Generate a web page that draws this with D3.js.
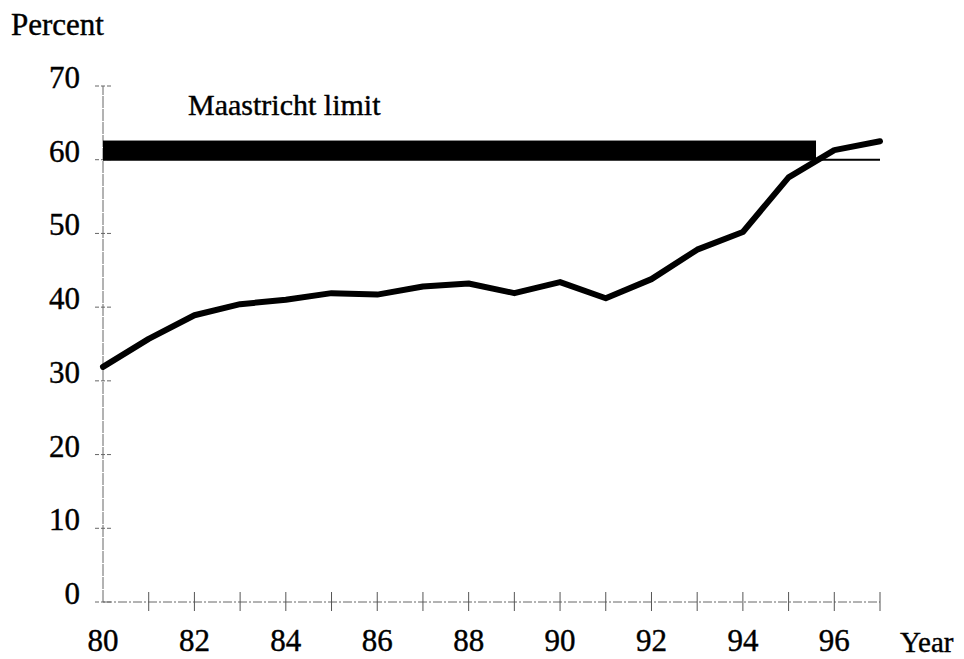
<!DOCTYPE html>
<html>
<head>
<meta charset="utf-8">
<script src="https://cdn.jsdelivr.net/npm/d3@7"></script>
<style>
  body { margin: 0; background: #fff; }
  text { font-family: "Liberation Serif", "Times New Roman", serif; fill: #000; stroke: #000; stroke-width: 0.4px; }
</style>
</head>
<body>
<div id="chart-area"></div>
<script>
// data
var years = [80, 81, 82, 83, 84, 85, 86, 87, 88, 89, 90, 91, 92, 93, 94, 95, 96, 97];
var debt = [31.9, 35.7, 38.9, 40.4, 41.0, 41.9, 41.7, 42.8, 43.2, 41.9, 43.4, 41.2, 43.8, 47.8, 50.2, 57.6, 61.3, 62.5];
var yTicks = [0, 10, 20, 30, 40, 50, 60, 70];
var xLabels = [80, 82, 84, 86, 88, 90, 92, 94, 96];
var limitValue = 60;
var limitBandTop = 62.6;
var limitBandEnd = 95.6;

var W = 964, H = 659;

var svg = d3.select("#chart-area")
  .append("svg")
  .attr("width", W)
  .attr("height", H);

var x = d3.scaleLinear().domain([80, 97]).range([103, 880]);
var y = d3.scaleLinear().domain([0, 70]).range([602, 86]);

// axis lines, thin grey and broken like the scan
svg.append("line")
  .attr("x1", x(80)).attr("x2", x(97))
  .attr("y1", y(0)).attr("y2", y(0))
  .attr("stroke", "#666").attr("stroke-width", 1)
  .attr("stroke-dasharray", "9,2,2,2");

svg.append("line")
  .attr("x1", x(80)).attr("x2", x(80))
  .attr("y1", y(0)).attr("y2", y(70))
  .attr("stroke", "#666").attr("stroke-width", 1)
  .attr("stroke-dasharray", "12,1");

// y ticks, crossing the axis
svg.append("g").selectAll("line")
  .data(yTicks)
  .enter()
  .append("line")
    .attr("x1", x(80) - 8).attr("x2", x(80) + 9)
    .attr("y1", function(d) { return y(d); })
    .attr("y2", function(d) { return y(d); })
    .attr("stroke", "#666").attr("stroke-width", 1)
    .attr("stroke-dasharray", "4,2");

svg.append("g").selectAll("text")
  .data(yTicks)
  .enter()
  .append("text")
    .attr("x", 80)
    .attr("y", function(d) { return y(d) + 2; })
    .attr("text-anchor", "end")
    .attr("font-size", 31)
    .text(function(d) { return d; });

// x ticks, every year
svg.append("g").selectAll("line")
  .data(years.slice(1))
  .enter()
  .append("line")
    .attr("x1", function(d) { return x(d); })
    .attr("x2", function(d) { return x(d); })
    .attr("y1", y(0) - 10).attr("y2", y(0) + 9)
    .attr("stroke", "#555").attr("stroke-width", 1);

svg.append("g").selectAll("text")
  .data(xLabels)
  .enter()
  .append("text")
    .attr("x", function(d) { return x(d); })
    .attr("y", 651)
    .attr("text-anchor", "middle")
    .attr("font-size", 31)
    .text(function(d) { return d; });

// Maastricht limit band and reference line
svg.append("rect")
  .attr("x", x(80))
  .attr("y", y(limitBandTop))
  .attr("width", x(limitBandEnd) - x(80))
  .attr("height", y(limitValue) - y(limitBandTop))
  .attr("fill", "#000");

svg.append("line")
  .attr("x1", x(80)).attr("x2", x(97))
  .attr("y1", y(limitValue)).attr("y2", y(limitValue))
  .attr("stroke", "#000").attr("stroke-width", 2);

svg.append("text")
  .attr("x", 188)
  .attr("y", 115)
  .attr("font-size", 30)
  .text("Maastricht limit");

// the debt line
svg.append("path")
  .datum(years.map(function(d, i) { return [d, debt[i]]; }))
  .attr("fill", "none")
  .attr("stroke", "#000")
  .attr("stroke-width", 6)
  .attr("stroke-linejoin", "round")
  .attr("stroke-linecap", "round")
  .attr("d", d3.line()
    .x(function(d) { return x(d[0]); })
    .y(function(d) { return y(d[1]); }));

// axis titles
svg.append("text")
  .attr("x", 11)
  .attr("y", 35)
  .attr("font-size", 31)
  .text("Percent");

svg.append("text")
  .attr("x", 900)
  .attr("y", 652)
  .attr("font-size", 29)
  .text("Year");
</script>
</body>
</html>
